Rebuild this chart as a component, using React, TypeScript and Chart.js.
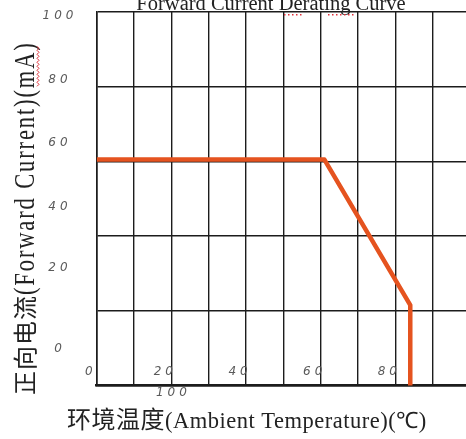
import React, { useEffect, useRef } from 'react';
import { Chart, registerables } from 'chart.js';

Chart.register(...registerables);

// ---- data ----
const chartTitle = 'Forward Current Derating Curve';
const xTitleParts = ['环境温度', '(Ambient Temperature)(℃)'];
const yTitleParts = ['正向电流', '(Forward Current)(mA)'];

const temperatureC = [0, 61, 84, 84];
const forwardCurrentMA = [60.5, 60.5, 21.5, 0];

const xTickValues = [0, 20, 40, 60, 80];
const xTickLabels = ['0', '20', '40', '60', '80'];
const yTickLabels = ['0', '20', '40', '60', '80', '100'];
// where the (scanned, misaligned) y labels sit along the current axis
const yTickLabelAt = [9.8, 31.5, 47.7, 64.9, 81.7, 99.0];
const strayTickLabel = '100';
const strayTickLabelAt = 20;

// ---- layout / style ----
const CANVAS_W = 480;
const CANVAS_H = 439;
const AREA_LEFT = 96.7;
const LABEL_AXIS_W = 48.5;
const AREA_RIGHT = 470;
const AREA_TOP = 12;
const AREA_BOTTOM = 385.5;

const LINE_COLOR = '#E5531F';
const GRID_COLOR = '#1c1c1c';
const TICK_COLOR = '#5a5a5a';
const TEXT_COLOR = '#222';
const SPELL_COLOR = '#e0303a';
const SERIF = '"Liberation Serif", "Times New Roman", serif';
const CJK = '"Noto Sans CJK SC", sans-serif';
const TICK_FONT_FAMILY = '"DejaVu Sans", sans-serif';

type Run = { text: string; font: string; spacing: number; scaleX: number };

function drawRun(ctx: CanvasRenderingContext2D, parts: Run[], x: number, y: number) {
  let cx = x;
  for (const p of parts) {
    ctx.save();
    ctx.font = p.font;
    (ctx as any).letterSpacing = `${p.spacing}px`;
    ctx.translate(cx, y);
    ctx.scale(p.scaleX, 1);
    ctx.textAlign = 'left';
    ctx.textBaseline = 'alphabetic';
    ctx.fillText(p.text, 0, 0);
    const w = ctx.measureText(p.text).width * p.scaleX;
    ctx.restore();
    cx += w;
  }
  return cx;
}

const scanTextPlugin = {
  id: 'scanText',
  beforeDraw(chart: any) {
    (chart.ctx as any).letterSpacing = '4px';
  },
  afterDraw(chart: any) {
    const ctx: CanvasRenderingContext2D = chart.ctx;
    (ctx as any).letterSpacing = '0px';
    const { top, bottom } = chart.chartArea;
    const xs = chart.scales.x;
    ctx.save();
    ctx.fillStyle = TEXT_COLOR;

    // chart title (cut by the top edge in the scan)
    ctx.font = `20.5px ${SERIF}`;
    ctx.textAlign = 'center';
    ctx.textBaseline = 'alphabetic';
    ctx.fillText(chartTitle, 271, top - 2);

    // spell-check dots under "Derating"
    ctx.fillStyle = SPELL_COLOR;
    for (let px = 284; px <= 352; px += 4) {
      if (px > 300 && px < 326) continue;
      ctx.fillRect(px, top + 2, 1.5, 1.5);
    }
    ctx.fillStyle = TEXT_COLOR;

    // x axis title
    drawRun(
      ctx,
      [
        { text: xTitleParts[0], font: `24px ${CJK}`, spacing: 0.5, scaleX: 1 },
        { text: xTitleParts[1], font: `22.5px ${SERIF}`, spacing: 0.5, scaleX: 1 },
      ],
      67,
      428
    );

    // y axis title (rotated)
    ctx.save();
    ctx.translate(34, 395);
    ctx.rotate(-Math.PI / 2);
    const end = drawRun(
      ctx,
      [
        { text: yTitleParts[0], font: `24px ${CJK}`, spacing: 1, scaleX: 1 },
        { text: yTitleParts[1], font: `30px ${SERIF}`, spacing: 2.5, scaleX: 0.75 },
      ],
      0,
      0
    );
    // spell-check squiggle under "(mA)"
    ctx.strokeStyle = SPELL_COLOR;
    ctx.lineWidth = 1;
    ctx.beginPath();
    let k = 0;
    for (let u = end - 45; u <= end - 4; u += 2, k++) {
      const v = 3 + (k % 2 === 0 ? 0 : 2);
      if (k === 0) ctx.moveTo(u, v);
      else ctx.lineTo(u, v);
    }
    ctx.stroke();
    ctx.restore();

    // stray "100" label under the axis
    ctx.font = `italic 12px ${TICK_FONT_FAMILY}`;
    ctx.fillStyle = TICK_COLOR;
    (ctx as any).letterSpacing = '4px';
    ctx.textAlign = 'center';
    ctx.textBaseline = 'middle';
    ctx.fillText(strayTickLabel, xs.getPixelForValue(strayTickLabelAt) + 2, bottom + 7);
    ctx.restore();
    (ctx as any).letterSpacing = '0px';
  },
};

export default function App() {
  const canvasRef = useRef<HTMLCanvasElement | null>(null);

  useEffect(() => {
    const canvas = canvasRef.current;
    if (!canvas) return;
    const tickFont = { family: TICK_FONT_FAMILY, size: 12, style: 'italic' as const };

    const chart = new Chart(canvas, {
      type: 'line',
      data: {
        datasets: [
          {
            label: 'Forward Current',
            data: temperatureC.map((x, i) => ({ x, y: forwardCurrentMA[i] })),
            borderColor: LINE_COLOR,
            backgroundColor: LINE_COLOR,
            borderWidth: 4.5,
            pointRadius: 0,
            tension: 0,
            fill: false,
            borderJoinStyle: 'round',
          },
        ],
      },
      options: {
        animation: false,
        responsive: false,
        events: [],
        layout: {
          padding: {
            top: AREA_TOP,
            right: CANVAS_W - AREA_RIGHT,
            bottom: CANVAS_H - AREA_BOTTOM,
            left: 0,
          },
        },
        plugins: {
          legend: { display: false },
          title: { display: false },
          tooltip: { enabled: false },
        },
        scales: {
          x: {
            type: 'linear',
            min: 0,
            max: 100,
            position: 'bottom',
            afterFit: (s: any) => {
              s.height = 0;
            },
            grid: { color: GRID_COLOR, lineWidth: 1.4, drawTicks: false },
            border: { color: GRID_COLOR, width: 2.6 },
            ticks: {
              stepSize: 10,
              autoSkip: false,
              maxRotation: 0,
              minRotation: 0,
              mirror: true,
              padding: 6,
              labelOffset: -6,
              color: TICK_COLOR,
              font: tickFont,
              callback: (v: any) => {
                const i = xTickValues.indexOf(Number(v));
                return i >= 0 ? xTickLabels[i] : '';
              },
            },
          },
          y: {
            type: 'linear',
            min: 0,
            max: 100,
            position: 'left',
            weight: 0,
            afterFit: (s: any) => {
              s.width = AREA_LEFT - LABEL_AXIS_W;
            },
            grid: { color: GRID_COLOR, lineWidth: 1.4, drawTicks: false },
            border: { color: GRID_COLOR, width: 1.6 },
            ticks: { display: false, stepSize: 20 },
          },
          yLabels: {
            type: 'linear',
            min: 0,
            max: 100,
            position: 'left',
            weight: 1,
            afterFit: (s: any) => {
              s.width = LABEL_AXIS_W;
            },
            afterBuildTicks: (s: any) => {
              s.ticks = yTickLabelAt.map((value) => ({ value }));
            },
            grid: { display: false, drawTicks: false },
            border: { display: false },
            ticks: {
              mirror: true,
              crossAlign: 'center',
              padding: 0,
              color: TICK_COLOR,
              font: tickFont,
              autoSkip: false,
              callback: (_v: any, i: number) => yTickLabels[i],
            },
          },
        },
      } as any,
      plugins: [scanTextPlugin],
    });

    return () => chart.destroy();
  }, []);

  return (
    <div
      style={{
        position: 'fixed',
        left: 0,
        top: 0,
        width: 466,
        height: 439,
        overflow: 'hidden',
        background: '#fff',
      }}
    >
      <canvas
        ref={canvasRef}
        width={CANVAS_W}
        height={CANVAS_H}
        style={{ display: 'block', width: CANVAS_W, height: CANVAS_H }}
      />
    </div>
  );
}
